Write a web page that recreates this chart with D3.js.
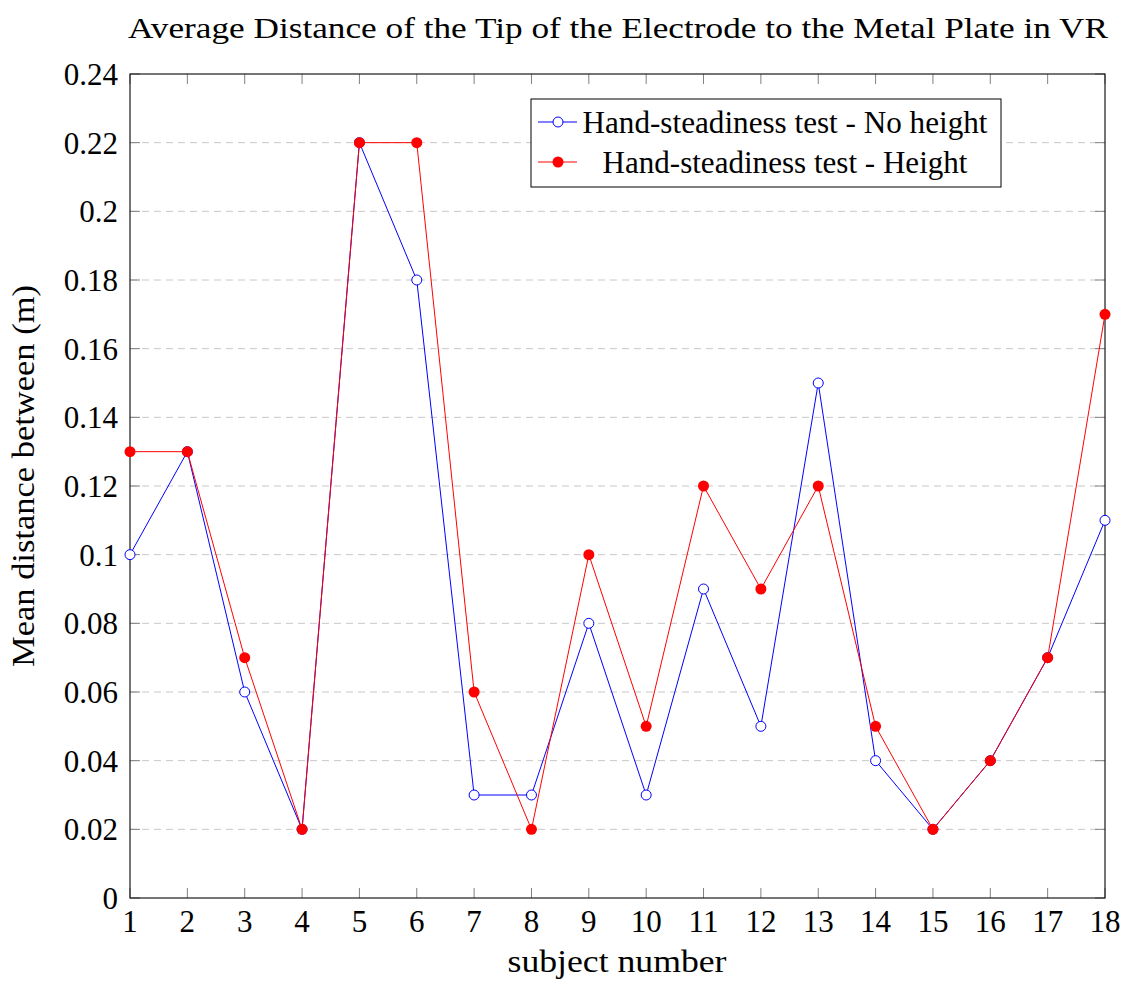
<!DOCTYPE html>
<html>
<head>
<meta charset="utf-8">
<script src="https://cdn.jsdelivr.net/npm/d3@7"></script>
<style>
  body { margin: 0; background: #fff; }
  text { font-family: "Liberation Serif", serif; fill: #000; }
</style>
</head>
<body>
<div id="chart"></div>
<script>
  // subject numbers along the x axis
  const subjects = [1, 2, 3, 4, 5, 6, 7, 8, 9, 10, 11, 12, 13, 14, 15, 16, 17, 18];

  // mean distance (m) per subject
  const noHeight = [0.10, 0.13, 0.06, 0.02, 0.22, 0.18, 0.03, 0.03, 0.08, 0.03, 0.09, 0.05, 0.15, 0.04, 0.02, 0.04, 0.07, 0.11];
  const withHeight = [0.13, 0.13, 0.07, 0.02, 0.22, 0.22, 0.06, 0.02, 0.10, 0.05, 0.12, 0.09, 0.12, 0.05, 0.02, 0.04, 0.07, 0.17];

  const yTicks = [0, 0.02, 0.04, 0.06, 0.08, 0.1, 0.12, 0.14, 0.16, 0.18, 0.2, 0.22, 0.24];
  const seriesNames = ['Hand-steadiness test - No height', 'Hand-steadiness test - Height'];

  const width = 1123;
  const height = 985;
  const plot = { left: 130, right: 1105, top: 74, bottom: 898 };

  const svg = d3.select('#chart')
    .append('svg')
      .attr('width', width)
      .attr('height', height);

  // the original font (Palatino) runs wider than Times, so stretch labels to the same width
  function fitWidth(sel, target) {
    sel.attr('textLength', target).attr('lengthAdjust', 'spacingAndGlyphs');
    return sel;
  }

  const x = d3.scaleLinear()
    .domain([1, 18])
    .range([plot.left, plot.right]);

  const y = d3.scaleLinear()
    .domain([0, 0.24])
    .range([plot.bottom, plot.top]);

  // Dashed grid lines
  svg.selectAll('.grid')
    .data(yTicks.slice(1, -1))
    .join('line')
      .attr('class', 'grid')
      .attr('x1', plot.left)
      .attr('x2', plot.right)
      .attr('y1', d => y(d))
      .attr('y2', d => y(d))
      .attr('stroke', '#c8c8c8')
      .attr('stroke-width', 1)
      .attr('stroke-dasharray', '7,5');

  // Inward ticks on all four sides
  const tickLen = 10;
  const tickColor = '#808080';
  svg.selectAll('.xtick-b')
    .data(subjects)
    .join('line')
      .attr('x1', d => x(d)).attr('x2', d => x(d))
      .attr('y1', plot.bottom).attr('y2', plot.bottom - tickLen)
      .attr('stroke', tickColor);
  svg.selectAll('.xtick-t')
    .data(subjects)
    .join('line')
      .attr('x1', d => x(d)).attr('x2', d => x(d))
      .attr('y1', plot.top).attr('y2', plot.top + tickLen)
      .attr('stroke', tickColor);
  svg.selectAll('.ytick-l')
    .data(yTicks)
    .join('line')
      .attr('x1', plot.left).attr('x2', plot.left + tickLen)
      .attr('y1', d => y(d)).attr('y2', d => y(d))
      .attr('stroke', tickColor);
  svg.selectAll('.ytick-r')
    .data(yTicks)
    .join('line')
      .attr('x1', plot.right).attr('x2', plot.right - tickLen)
      .attr('y1', d => y(d)).attr('y2', d => y(d))
      .attr('stroke', tickColor);

  // Frame
  svg.append('rect')
    .attr('x', plot.left)
    .attr('y', plot.top)
    .attr('width', plot.right - plot.left)
    .attr('height', plot.bottom - plot.top)
    .attr('fill', 'none')
    .attr('stroke', '#1a1a1a')
    .attr('stroke-width', 1.2);

  // Tick labels
  svg.selectAll('.xlabel')
    .data(subjects)
    .join('text')
      .attr('x', d => x(d))
      .attr('y', 932)
      .attr('text-anchor', 'middle')
      .attr('font-size', 31)
      .text(d => d);

  svg.selectAll('.ylabel')
    .data(yTicks)
    .join('text')
      .attr('x', plot.left - 12)
      .attr('y', d => y(d) + 11)
      .attr('text-anchor', 'end')
      .attr('font-size', 31)
      .text(d => d);

  // Title and axis labels
  fitWidth(svg.append('text')
    .attr('x', 618)
    .attr('y', 38)
    .attr('text-anchor', 'middle')
    .attr('font-size', 30)
    .text('Average Distance of the Tip of the Electrode to the Metal Plate in VR'), 980);

  fitWidth(svg.append('text')
    .attr('x', 617)
    .attr('y', 972)
    .attr('text-anchor', 'middle')
    .attr('font-size', 31)
    .text('subject number'), 219);

  fitWidth(svg.append('text')
    .attr('transform', 'translate(34,476) rotate(-90)')
    .attr('text-anchor', 'middle')
    .attr('font-size', 31)
    .text('Mean distance between (m)'), 382);

  // Series
  const line = d3.line()
    .x((d, i) => x(subjects[i]))
    .y(d => y(d));

  svg.append('path')
    .datum(noHeight)
    .attr('d', line)
    .attr('fill', 'none')
    .attr('stroke', '#0000ff')
    .attr('stroke-width', 1);

  svg.selectAll('.mark-blue')
    .data(noHeight)
    .join('circle')
      .attr('cx', (d, i) => x(subjects[i]))
      .attr('cy', d => y(d))
      .attr('r', 5)
      .attr('fill', '#fff')
      .attr('stroke', '#0000ff')
      .attr('stroke-width', 1);

  svg.append('path')
    .datum(withHeight)
    .attr('d', line)
    .attr('fill', 'none')
    .attr('stroke', '#ff0000')
    .attr('stroke-width', 1);

  svg.selectAll('.mark-red')
    .data(withHeight)
    .join('circle')
      .attr('cx', (d, i) => x(subjects[i]))
      .attr('cy', d => y(d))
      .attr('r', 5.5)
      .attr('fill', '#ff0000');

  // Legend
  const legend = svg.append('g');
  legend.append('rect')
    .attr('x', 531)
    .attr('y', 99)
    .attr('width', 470)
    .attr('height', 88)
    .attr('fill', '#fff')
    .attr('stroke', '#000')
    .attr('stroke-width', 1);

  const legendRows = [
    { name: seriesNames[0], color: '#0000ff', filled: false, y: 122, w: 405 },
    { name: seriesNames[1], color: '#ff0000', filled: true, y: 162, w: 365 }
  ];

  legendRows.forEach(r => {
    legend.append('line')
      .attr('x1', 538).attr('x2', 577)
      .attr('y1', r.y).attr('y2', r.y)
      .attr('stroke', r.color)
      .attr('stroke-width', 1);
    legend.append('circle')
      .attr('cx', 558)
      .attr('cy', r.y)
      .attr('r', r.filled ? 5.5 : 5)
      .attr('fill', r.filled ? r.color : '#fff')
      .attr('stroke', r.filled ? 'none' : r.color);
    fitWidth(legend.append('text')
      .attr('x', 785)
      .attr('y', r.y + 11)
      .attr('text-anchor', 'middle')
      .attr('font-size', 31)
      .text(r.name), r.w);
  });
</script>
</body>
</html>
